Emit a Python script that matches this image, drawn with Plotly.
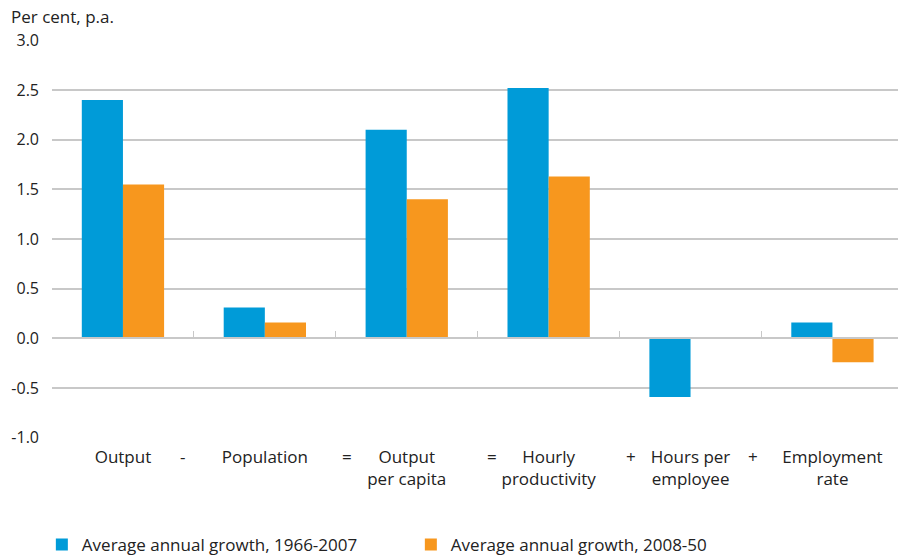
import plotly.graph_objects as go

categories = ["Output", "Population", "Output<br>per capita", "Hourly<br>productivity",
              "Hours per<br>employee", "Employment<br>rate"]
series1_name = "Average annual growth, 1966-2007"
series2_name = "Average annual growth, 2008-50"
series1 = [2.40, 0.31, 2.10, 2.52, -0.59, 0.16]
series2 = [1.55, 0.16, 1.40, 1.63, 0.0, -0.24]
operators = ["-", "=", "=", "+", "+"]
operator_pos = [0.42, 1.58, 2.60, 3.58, 4.44]
y_ticks = [-1.0, -0.5, 0.0, 0.5, 1.0, 1.5, 2.0, 2.5, 3.0]

BLUE = "#009BD8"
ORANGE = "#F7971E"
GRID = "#C8C8C8"
TEXT = "#222222"
FONT = "Open Sans"
FS = 17

xs = list(range(len(categories)))

fig = go.Figure()
fig.add_trace(go.Bar(x=xs, y=series1, name=series1_name, marker_color=BLUE,
                     marker_line_width=0))
fig.add_trace(go.Bar(x=xs, y=series2, name=series2_name, marker_color=ORANGE,
                     marker_line_width=0))
# invisible trace to activate the zero-line axis with boundary ticks
fig.add_trace(go.Scatter(x=[-0.5, 5.5], y=[0, 0], xaxis="x2", mode="lines",
                         line=dict(width=0), showlegend=False, hoverinfo="skip"))

xrange = [-0.5, 5.462]
yrange = [-1.004, 3.004]
zero_pos = (0 - yrange[0]) / (yrange[1] - yrange[0])
fig.update_layout(
    width=898, height=557,
    margin=dict(l=52, r=0, t=40, b=119, autoexpand=False),
    paper_bgcolor="white", plot_bgcolor="white",
    font=dict(family=FONT, size=FS, color=TEXT),
    barmode="group", bargap=0.42, bargroupgap=0,
    xaxis=dict(range=xrange, tickmode="array", tickvals=xs, ticktext=categories,
               showgrid=False, zeroline=False, showline=False, ticks="",
               ticklabelstandoff=7, automargin=False,
               tickfont=dict(size=FS, color=TEXT)),
    xaxis2=dict(range=xrange, overlaying="x", anchor="free", position=zero_pos,
                showline=True, linecolor=GRID, linewidth=2,
                tickmode="array", tickvals=[-0.5, 0.5, 1.5, 2.5, 3.5, 4.5, 5.5],
                ticks="inside", ticklen=6, tickwidth=1, tickcolor=GRID,
                showticklabels=False, showgrid=False, zeroline=False, automargin=False),
    yaxis=dict(range=yrange, tickmode="array", tickvals=y_ticks,
               ticktext=[f"{v:.1f}" for v in y_ticks],
               showgrid=True, gridcolor=GRID, gridwidth=2, zeroline=False,
               showline=False, ticks="", ticklabelstandoff=12, automargin=False,
               tickfont=dict(size=16, color=TEXT)),
    legend=dict(orientation="h", x=-0.012, xanchor="left", y=-0.269, yanchor="middle",
                font=dict(size=FS, color=TEXT), entrywidth=324, traceorder="normal",
                itemclick=False),
    showlegend=True,
)

fig.add_annotation(text="Per cent, p.a.", xref="paper", yref="paper",
                   x=-43/846, y=1 + 23/398, xanchor="left", yanchor="middle",
                   showarrow=False, font=dict(size=FS, color=TEXT))

for op, px in zip(operators, operator_pos):
    fig.add_annotation(text=op, x=px, xref="x", y=-1.0, yref="y", yshift=-19,
                       yanchor="middle", showarrow=False,
                       font=dict(size=FS, color=TEXT))

fig.write_html("out.html", config={"displayModeBar": False},
               post_script="document.body.style.margin='0';")
